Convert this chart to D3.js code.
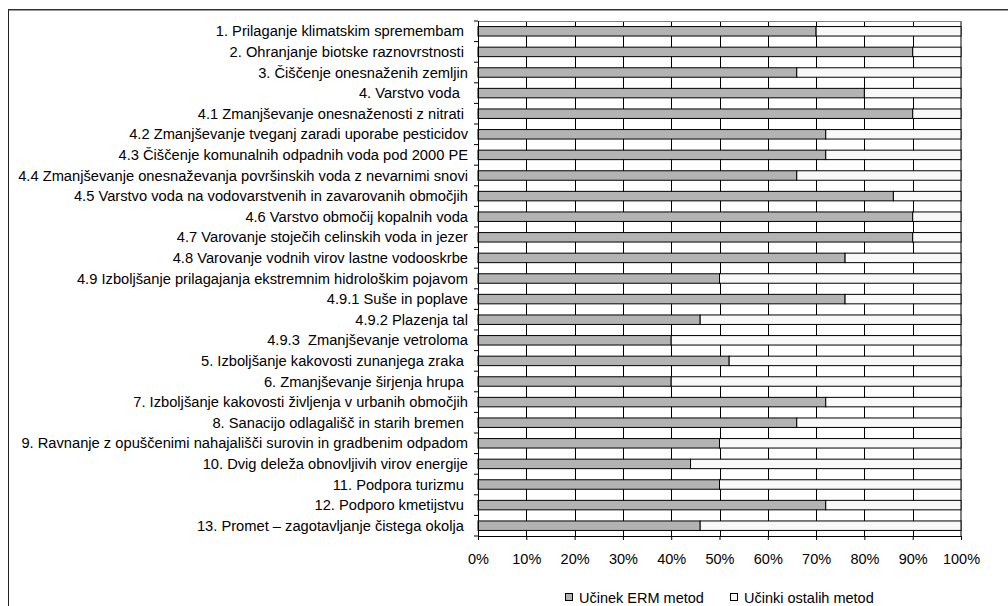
<!DOCTYPE html>
<html>
<head>
<meta charset="utf-8">
<script src="https://cdn.jsdelivr.net/npm/d3@7"></script>
<style>
  body { margin: 0; background: #fff; }
  text { font-family: "Liberation Sans", Arial, sans-serif; white-space: pre; }
</style>
</head>
<body>
<div id="chart"></div>
<script>
var width = 1008;
var height = 606;

// category labels (top to bottom), trailing spaces kept as in the source chart
var categories = [
  "1. Prilaganje klimatskim spremembam ",
  "2. Ohranjanje biotske raznovrstnosti ",
  "3. Čiščenje onesnaženih zemljin",
  "4. Varstvo voda  ",
  "4.1 Zmanjševanje onesnaženosti z nitrati ",
  "4.2 Zmanjševanje tveganj zaradi uporabe pesticidov",
  "4.3 Čiščenje komunalnih odpadnih voda pod 2000 PE",
  "4.4 Zmanjševanje onesnaževanja površinskih voda z nevarnimi snovi",
  "4.5 Varstvo voda na vodovarstvenih in zavarovanih območjih",
  "4.6 Varstvo območij kopalnih voda",
  "4.7 Varovanje stoječih celinskih voda in jezer",
  "4.8 Varovanje vodnih virov lastne vodooskrbe",
  "4.9 Izboljšanje prilagajanja ekstremnim hidrološkim pojavom",
  "4.9.1 Suše in poplave",
  "4.9.2 Plazenja tal",
  "4.9.3  Zmanjševanje vetroloma",
  "5. Izboljšanje kakovosti zunanjega zraka ",
  "6. Zmanjševanje širjenja hrupa ",
  "7. Izboljšanje kakovosti življenja v urbanih območjih",
  "8. Sanacijo odlagališč in starih bremen ",
  "9. Ravnanje z opuščenimi nahajališči surovin in gradbenim odpadom",
  "10. Dvig deleža obnovljivih virov energije",
  "11. Podpora turizmu ",
  "12. Podporo kmetijstvu ",
  "13. Promet – zagotavljanje čistega okolja "
];

// share of the ERM methods effect, percent
var ermValues = [70, 90, 66, 80, 90, 72, 72, 66, 86, 90, 90, 76, 50, 76, 46, 40, 52, 40, 72, 66, 50, 44, 50, 72, 46];
// share of the other methods effect, percent
var otherValues = [30, 10, 34, 20, 10, 28, 28, 34, 14, 10, 10, 24, 50, 24, 54, 60, 48, 60, 28, 34, 50, 56, 50, 28, 54];

var seriesNames = ["Učinek ERM metod", "Učinki ostalih metod"];
var seriesColors = ["#b3b3b3", "#f8f8f8"];
var xTicks = [0, 10, 20, 30, 40, 50, 60, 70, 80, 90, 100];

var plot = { left: 478, right: 961, top: 21, bottom: 536 };

var svg = d3.select("#chart")
  .append("svg")
  .attr("width", width)
  .attr("height", height);

// outer chart frame (only top and left edges are visible in the crop)
svg.append("rect")
  .attr("x", 8.5)
  .attr("y", 9.5)
  .attr("width", 1100)
  .attr("height", 700)
  .attr("fill", "none")
  .attr("stroke", "#222")
  .attr("stroke-width", 1);
svg.append("line")
  .attr("x1", 8).attr("x2", width)
  .attr("y1", 9.8).attr("y2", 9.8)
  .attr("stroke", "#333")
  .attr("stroke-width", 1.6);

var x = d3.scaleLinear()
  .domain([0, 100])
  .range([plot.left, plot.right]);

var y = d3.scaleBand()
  .domain(categories)
  .range([plot.top, plot.bottom])
  .paddingInner(0.54)
  .paddingOuter(0.27);

// gridlines
svg.append("g")
  .selectAll("line")
  .data(xTicks.slice(1, -1))
  .enter()
  .append("line")
  .attr("x1", function(d) { return Math.round(x(d)) + 0.5; })
  .attr("x2", function(d) { return Math.round(x(d)) + 0.5; })
  .attr("y1", plot.top)
  .attr("y2", plot.bottom)
  .attr("stroke", "#000")
  .attr("stroke-width", 1);

// plot area border (grey)
svg.append("line")
  .attr("x1", plot.left).attr("x2", plot.right)
  .attr("y1", plot.top + 0.5).attr("y2", plot.top + 0.5)
  .attr("stroke", "#808080");
svg.append("line")
  .attr("x1", plot.right).attr("x2", plot.right)
  .attr("y1", plot.top).attr("y2", plot.bottom)
  .attr("stroke", "#808080")
  .attr("stroke-width", 2);

// stacked bars
var stackData = categories.map(function(c, i) {
  return { cat: c, erm: ermValues[i], other: otherValues[i] };
});
var stack = d3.stack().keys(["erm", "other"]);
var layers = stack(stackData);

svg.append("g")
  .selectAll("g")
  .data(layers)
  .enter()
  .append("g")
  .attr("fill", function(d, i) { return seriesColors[i]; })
  .selectAll("rect")
  .data(function(d) { return d; })
  .enter()
  .append("rect")
  .attr("x", function(d) { return x(d[0]); })
  .attr("y", function(d) { return y(d.data.cat); })
  .attr("width", function(d) { return x(d[1]) - x(d[0]); })
  .attr("height", y.bandwidth())
  .attr("stroke", "#000")
  .attr("stroke-width", 1);

// y axis: ticks at band boundaries
var yAxis = svg.append("g");
yAxis.append("line")
  .attr("x1", plot.left + 0.5).attr("x2", plot.left + 0.5)
  .attr("y1", plot.top).attr("y2", plot.bottom)
  .attr("stroke", "#000");
yAxis.selectAll("line.tick")
  .data(d3.range(categories.length + 1))
  .enter()
  .append("line")
  .attr("class", "tick")
  .attr("x1", plot.left - 4).attr("x2", plot.left)
  .attr("y1", function(i) { return plot.top + i * y.step(); })
  .attr("y2", function(i) { return plot.top + i * y.step(); })
  .attr("stroke", "#000");

yAxis.selectAll("text")
  .data(categories)
  .enter()
  .append("text")
  .attr("x", 468)
  .attr("y", function(d) { return y(d) + y.bandwidth() / 2; })
  .attr("dy", "0.35em")
  .attr("text-anchor", "end")
  .style("font-size", "14.7px")
  .attr("fill", "#000")
  .text(function(d) { return d; });

// x axis
var xAxis = d3.axisBottom(x)
  .tickValues(xTicks)
  .tickSize(4)
  .tickFormat(function(d) { return d + "%"; });

var gx = svg.append("g")
  .attr("transform", "translate(0," + plot.bottom + ")")
  .call(xAxis);
gx.select(".domain").attr("stroke", "#000");
gx.selectAll(".tick line").attr("stroke", "#000");
gx.selectAll(".tick text")
  .attr("y", 18)
  .attr("fill", "#000")
  .style("font-size", "14.5px")
  .style("font-family", "Liberation Sans, Arial, sans-serif");

// legend
var legendItems = [
  { name: seriesNames[0], color: seriesColors[0], x: 565 },
  { name: seriesNames[1], color: seriesColors[1], x: 730 }
];
var legend = svg.append("g");
legendItems.forEach(function(d) {
  legend.append("rect")
    .attr("x", d.x + 0.5)
    .attr("y", 593.5)
    .attr("width", 7)
    .attr("height", 7)
    .attr("fill", d.color)
    .attr("stroke", "#000");
  legend.append("text")
    .attr("x", d.x + 14)
    .attr("y", 597.5)
    .attr("dy", "0.35em")
    .style("font-size", "14.5px")
    .attr("fill", "#000")
    .text(d.name);
});
</script>
</body>
</html>
